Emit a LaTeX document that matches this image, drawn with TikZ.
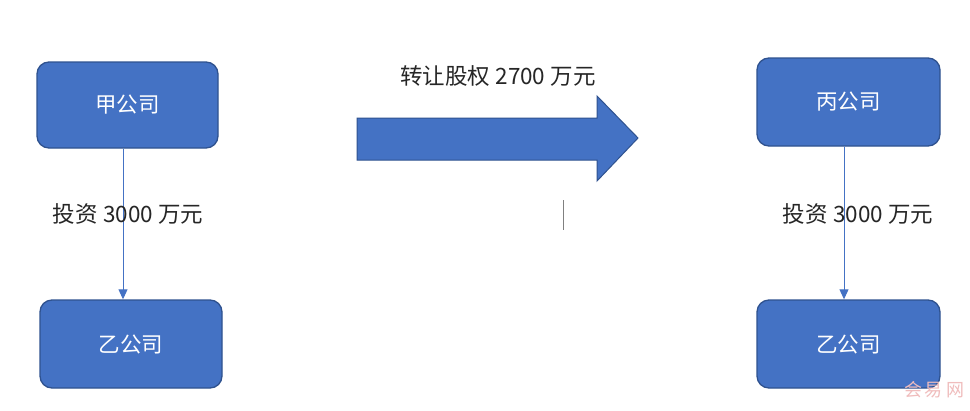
\documentclass[tikz,border=0pt]{standalone}
\usepackage{fontspec}
\setmainfont{Noto Sans CJK SC}
\newfontfamily\wmfont{Noto Sans CJK SC}
\usetikzlibrary{arrows.meta}
\definecolor{boxblue}{HTML}{4472C4}
\definecolor{boxedge}{HTML}{2F528F}
\definecolor{labgray}{HTML}{262626}
\definecolor{wmpink}{HTML}{F0BDBD}
\tikzset{
  company/.style={draw=boxedge, line width=1.3pt, fill=boxblue, rounded corners=12pt,
    text=white, font=\fontsize{21.5}{24}\selectfont, inner sep=0pt},
  flowarrow/.style={draw=boxblue, line width=1pt, -{Triangle[length=10pt,width=9pt]}},
  lab/.style={text=labgray, font=\fontsize{22.5}{25}\selectfont, inner sep=0pt},
}
\begin{document}
\begin{tikzpicture}[x=1pt,y=-1pt]
\useasboundingbox (0,0) rectangle (970,410);
\fill[white] (0,0) rectangle (970,410);
% left column
\node[company, minimum width=181pt, minimum height=86pt] (jia) at (127.5,105) {甲公司};
\node[company, minimum width=182pt, minimum height=88pt] (yi1) at (131,344) {乙公司};
\coordinate (ja) at (123,148.7);
\coordinate (ya) at (123,299.3);
\draw[flowarrow] (ja) -- (ya);
\node[lab] (l1) at (128,214) {投资 3000 万元};
% right column
\node[company, minimum width=183pt, minimum height=88pt] (bing) at (848.5,102) {丙公司};
\node[company, minimum width=183pt, minimum height=88pt] (yi2) at (848.5,344) {乙公司};
\coordinate (ba) at (844,146.7);
\coordinate (yb) at (844,299.3);
\draw[flowarrow] (ba) -- (yb);
\node[lab] (l2) at (858,214) {投资 3000 万元};
% big arrow
\draw[draw=boxedge, line width=1pt, fill=boxblue]
  (357,118) -- (597,118) -- (597,96) -- (638,138) -- (597,181) -- (597,160) -- (357,160) -- cycle;
\node[lab] (l3) at (498,76) {转让股权 2700 万元};
% small cursor line
\coordinate (c1) at (563,200);
\coordinate (c2) at (563,230);
\draw[gray, line width=0.6pt] (c1) -- (c2);
% watermark
\node[text=wmpink, font=\wmfont\fontsize{18}{20}\selectfont, inner sep=0pt] (wm) at (934,390) {会\hspace{3pt}易\hspace{3pt}网};
\end{tikzpicture}
\end{document}
